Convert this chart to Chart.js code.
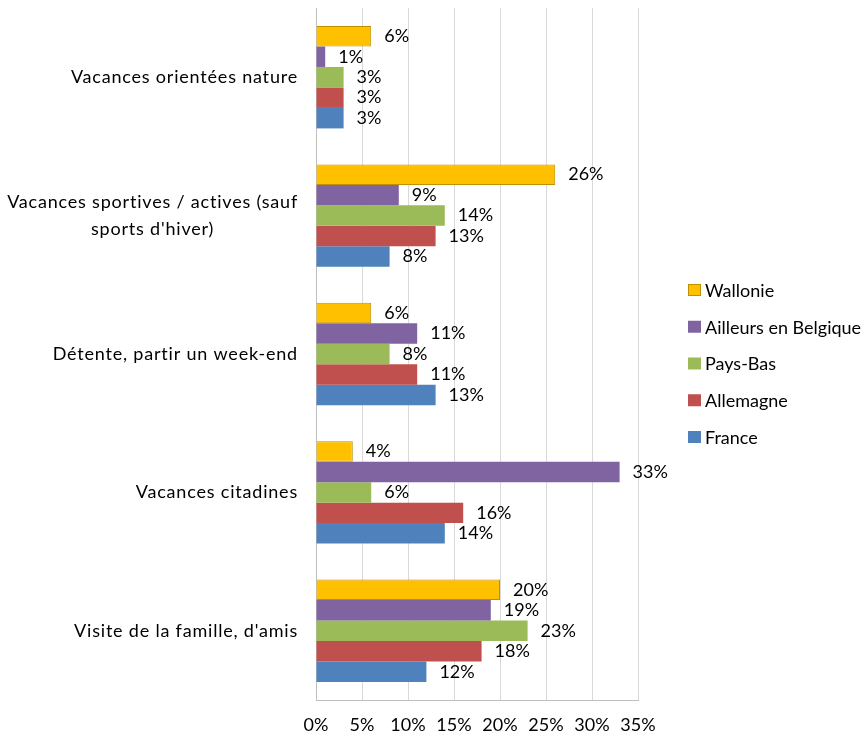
<!DOCTYPE html>
<html>
<head>
<meta charset="utf-8">
<script src="https://cdn.jsdelivr.net/npm/chart.js@4"></script>
<style>
  body { margin: 0; background: #fff; }
</style>
</head>
<body>
<canvas id="chart" width="862" height="737"></canvas>
<script>
const categories = [
  "Vacances orientées nature",
  ["Vacances sportives / actives (sauf", "sports d'hiver)"],
  "Détente, partir un week-end",
  "Vacances citadines",
  "Visite de la famille, d'amis",
];
const wallonie = [6, 26, 6, 4, 20];
const ailleursBelgique = [1, 9, 11, 33, 19];
const paysBas = [3, 14, 8, 6, 23];
const allemagne = [3, 13, 11, 16, 18];
const france = [3, 8, 13, 14, 12];

const FONT = "Lato";
const SIZE = 18;

// category labels: lines centred on each other, block right-aligned
const categoryLabels = {
  id: "categoryLabels",
  afterDraw(chart) {
    const { ctx, chartArea, scales } = chart;
    ctx.save();
    ctx.font = `${SIZE}px ${FONT}`;
    ctx.letterSpacing = "0.8px";
    ctx.fillStyle = "#000";
    ctx.textAlign = "center";
    ctx.textBaseline = "middle";
    categories.forEach((label, i) => {
      const lines = Array.isArray(label) ? label : [label];
      const maxW = Math.max(...lines.map((l) => ctx.measureText(l).width));
      const cx = chartArea.left - 18 - maxW / 2;
      const y = scales.y.getPixelForValue(i);
      const lineH = 27;
      lines.forEach((l, j) => {
        ctx.fillText(l, cx, y + (j - (lines.length - 1) / 2) * lineH);
      });
    });
    ctx.restore();
  },
};

// value labels to the right of each bar
const valueLabels = {
  id: "valueLabels",
  afterDatasetsDraw(chart) {
    const { ctx } = chart;
    ctx.save();
    ctx.font = `${SIZE}px ${FONT}`;
    ctx.fillStyle = "#000";
    ctx.textAlign = "left";
    ctx.textBaseline = "middle";
    chart.data.datasets.forEach((ds, i) => {
      chart.getDatasetMeta(i).data.forEach((bar, j) => {
        ctx.fillText(ds.data[j] + "%", bar.x + 13, bar.y);
      });
    });
    ctx.restore();
  },
};

// legend on the right
const sideLegend = {
  id: "sideLegend",
  afterDraw(chart) {
    const { ctx } = chart;
    ctx.save();
    ctx.font = `${SIZE}px ${FONT}`;
    ctx.textBaseline = "middle";
    ctx.textAlign = "left";
    chart.data.datasets.forEach((ds, i) => {
      const y = 290 + i * 36.75;
      ctx.fillStyle = ds.backgroundColor;
      ctx.fillRect(688, y - 6, 13, 12);
      if (ds.borderWidth) {
        ctx.strokeStyle = ds.borderColor;
        ctx.lineWidth = 1;
        ctx.strokeRect(688.5, y - 5.5, 12, 11);
      }
      ctx.fillStyle = "#000";
      ctx.fillText(ds.label, 705, y + 1);
    });
    ctx.restore();
  },
};

new Chart(document.getElementById("chart").getContext("2d"), {
  type: "bar",
  data: {
    labels: categories,
    datasets: [
      { label: "Wallonie", data: wallonie, backgroundColor: "#FFC000", borderColor: "#BF9000", borderWidth: 1 },
      { label: "Ailleurs en Belgique", data: ailleursBelgique, backgroundColor: "#8064A2", borderWidth: 0 },
      { label: "Pays-Bas", data: paysBas, backgroundColor: "#9BBB59", borderWidth: 0 },
      { label: "Allemagne", data: allemagne, backgroundColor: "#C0504D", borderWidth: 0 },
      { label: "France", data: france, backgroundColor: "#4F81BD", borderWidth: 0 },
    ],
  },
  options: {
    indexAxis: "y",
    responsive: false,
    animation: false,
    categoryPercentage: 0.74,
    barPercentage: 1,
    layout: { padding: { top: 8, right: 224, bottom: 0, left: 0 } },
    plugins: {
      legend: { display: false },
      tooltip: { enabled: false },
    },
    scales: {
      x: {
        min: 0,
        max: 35,
        ticks: {
          stepSize: 5,
          padding: 14,
          color: "#000",
          font: { family: FONT, size: SIZE },
          callback: (v) => v + "%",
        },
        grid: { color: "#D9D9D9", drawTicks: false },
        border: { color: "#BFBFBF" },
        afterFit(scale) {
          scale.height = 37;
        },
      },
      y: {
        ticks: { display: false },
        grid: { display: false },
        border: { color: "#BFBFBF" },
        afterFit(scale) {
          scale.width = 316;
        },
      },
    },
  },
  plugins: [categoryLabels, valueLabels, sideLegend],
});
</script>
</body>
</html>
